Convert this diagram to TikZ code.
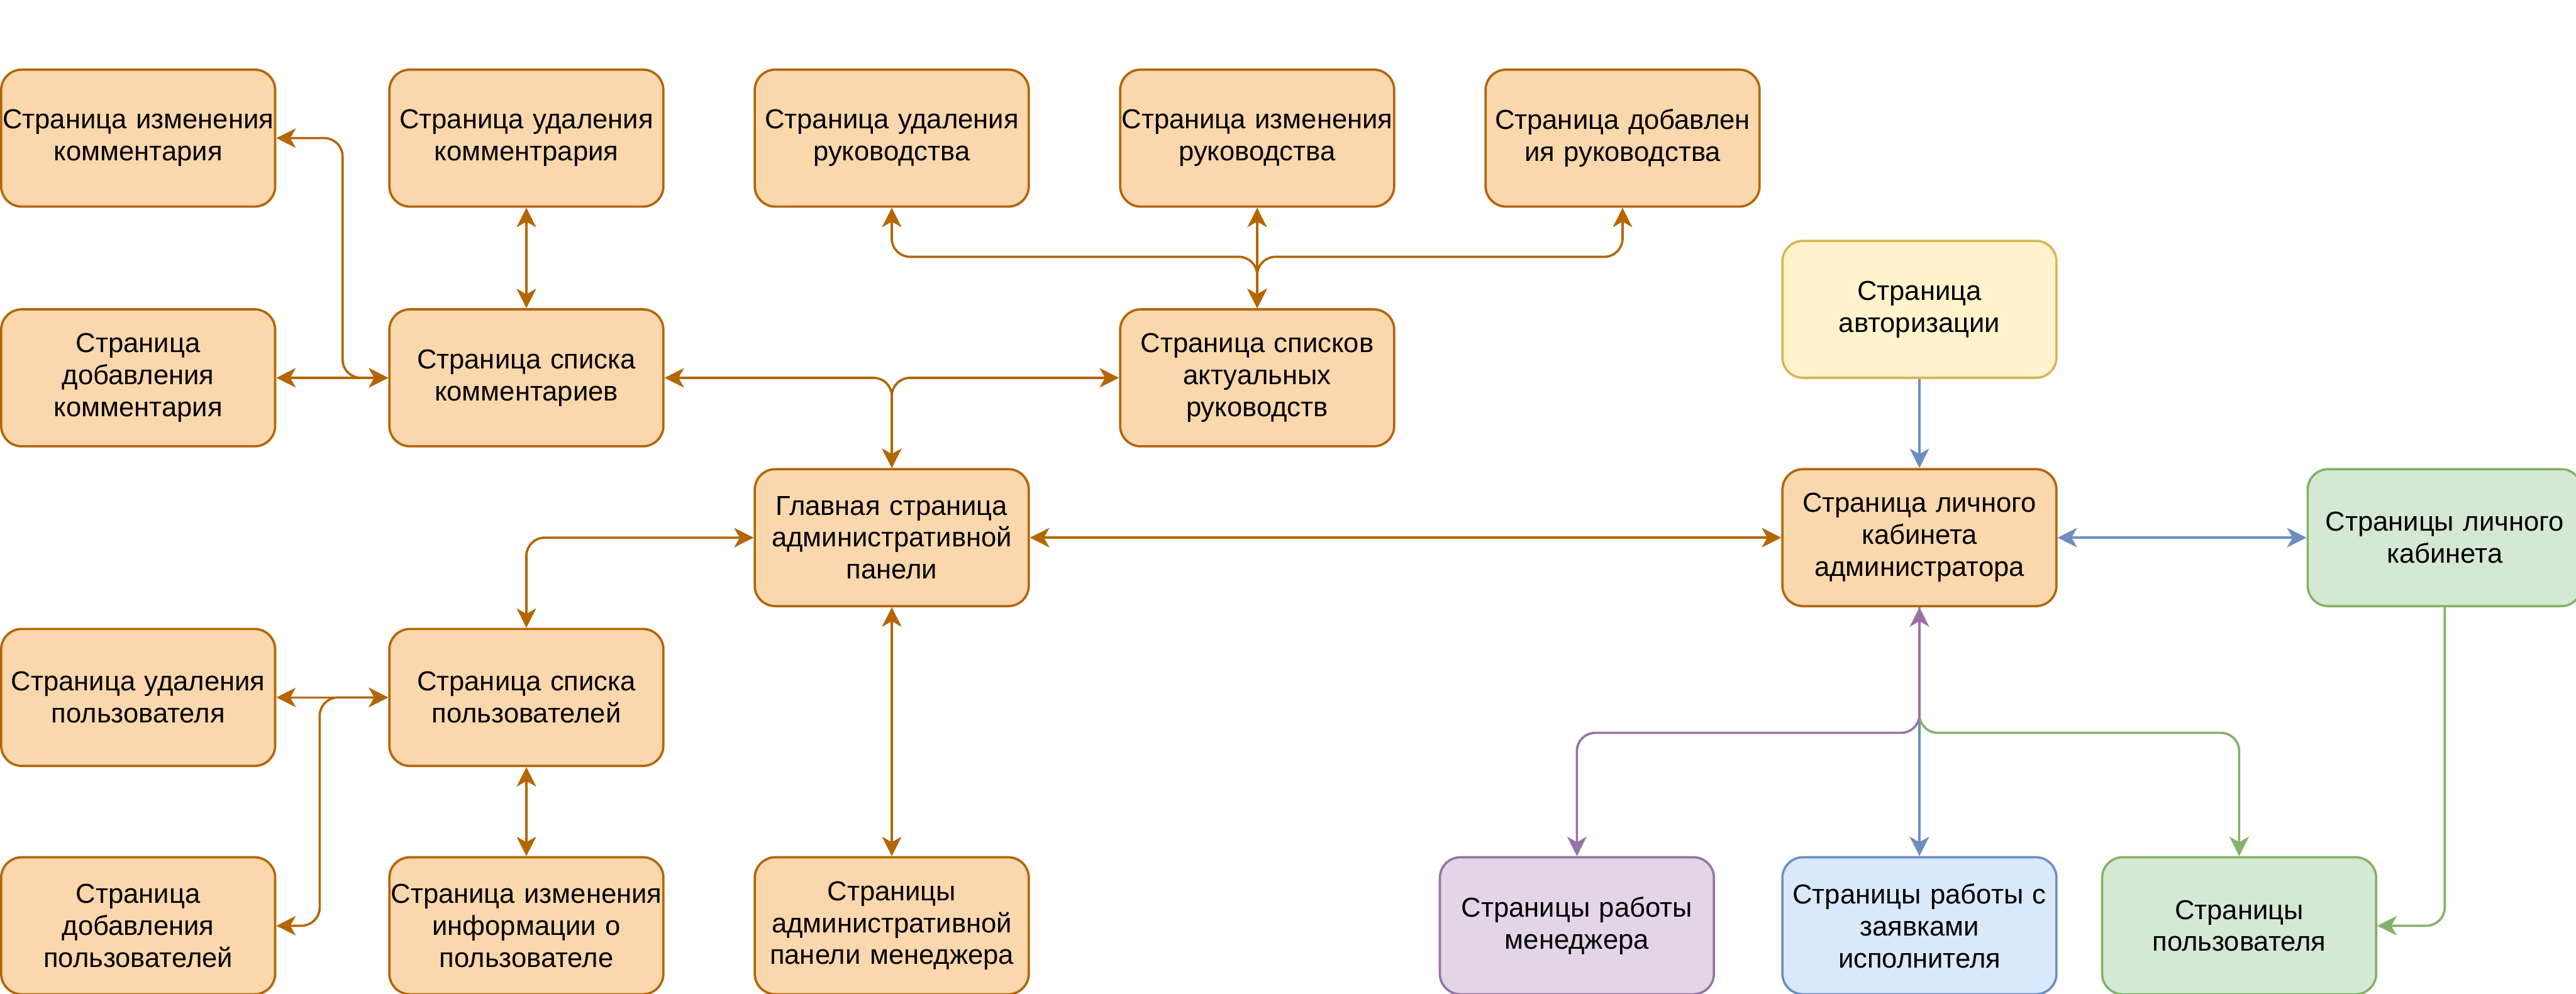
\documentclass[tikz,border=0pt]{standalone}
\usepackage{xcolor}
\usepackage{tikz}
\usepackage{fontspec}
\setmainfont{Liberation Sans}
\usetikzlibrary{arrows.meta, positioning, calc}
\definecolor{orangeline}{HTML}{B46504}
\definecolor{orangefill}{HTML}{FAD7AC}
\definecolor{yellowline}{HTML}{D6B656}
\definecolor{yellowfill}{HTML}{FFF2CC}
\definecolor{greenline}{HTML}{82B366}
\definecolor{greenfill}{HTML}{D5E8D4}
\definecolor{blueline}{HTML}{6C8EBF}
\definecolor{bluefill}{HTML}{DAE8FC}
\definecolor{purpleline}{HTML}{9673A6}
\definecolor{purplefill}{HTML}{E1D5E7}
\tikzstyle{arrow} = [line width=1pt, rounded corners=8pt, -{Stealth[length=8.5pt, width=8.5pt, inset=2.4pt]}]
\tikzstyle{biarrow} = [line width=1pt, rounded corners=8pt, {Stealth[length=8.5pt, width=8.5pt, inset=2.4pt]}-{Stealth[length=8.5pt, width=8.5pt, inset=2.4pt]}]

\begin{document}
\begin{tikzpicture}[
    x=1pt, y=-1pt,
    page/.style={rounded corners=9pt, line width=1pt, minimum width=120pt, minimum height=60pt,
        text width=120pt, inner sep=0pt, align=center, font=\fontsize{12}{14}\selectfont},
    orangepage/.style={page, draw=orangeline, fill=orangefill},
    yellowpage/.style={page, draw=yellowline, fill=yellowfill},
    greenpage/.style={page, draw=greenline, fill=greenfill},
    bluepage/.style={page, draw=blueline, fill=bluefill},
    purplepage/.style={page, draw=purpleline, fill=purplefill}
]
    \useasboundingbox (-0.5,-0.5) rectangle (1127.5,434.75);

    % Comments and guides
    \node[orangepage] (a1) at (60,60) {Страница изменения\\комментария};
    \node[orangepage] (a2) at (230,60) {Страница удаления\\комментрария};
    \node[orangepage] (a3) at (390,60) {Страница удаления\\руководства};
    \node[orangepage] (a4) at (550,60) {Страница изменения\\руководства};
    \node[orangepage] (a5) at (710,60) {Страница добавлен\\ия руководства};

    \node[orangepage] (b1) at (60,165) {Страница\\добавления\\комментария};
    \node[orangepage] (b2) at (230,165) {Страница списка\\комментариев};
    \node[orangepage] (b4) at (550,165) {Страница списков\\актуальных\\руководств};

    % Admin panel
    \node[orangepage] (main) at (390,235) {Главная страница\\административной\\панели};
    \node[yellowpage] (auth) at (840,135) {Страница\\авторизации};
    \node[orangepage] (admin) at (840,235) {Страница личного\\кабинета\\администратора};
    \node[greenpage] (cab) at (1070,235) {Страницы личного\\кабинета};

    % Users
    \node[orangepage] (c1) at (60,305) {Страница удаления\\пользователя};
    \node[orangepage] (c2) at (230,305) {Страница списка\\пользователей};

    \node[orangepage] (d1) at (60,405) {Страница\\добавления\\пользователей};
    \node[orangepage] (d2) at (230,405) {Страница изменения\\информации о\\пользователе};
    \node[orangepage] (d3) at (390,405) {Страницы\\административной\\панели менеджера};
    \node[purplepage] (mgr) at (690,405) {Страницы работы\\менеджера};
    \node[bluepage] (exec) at (840,405) {Страницы работы с\\заявками\\исполнителя};
    \node[greenpage] (user) at (980,405) {Страницы\\пользователя};

    % Orange links
    \draw[biarrow, orangeline] (b2.west) -- ++(-20,0) |- (a1.east);
    \draw[biarrow, orangeline] (b1) -- (b2);
    \draw[biarrow, orangeline] (a2) -- (b2);
    \draw[biarrow, orangeline] (main.north) |- (b2.east);
    \draw[biarrow, orangeline] (main.north) |- (b4.west);
    \draw[biarrow, orangeline] (b4.north) -- ++(0,-22.5) -| (a3.south);
    \draw[biarrow, orangeline] (b4.north) -- ++(0,-22.5) -| (a5.south);
    \draw[biarrow, orangeline] (b4) -- (a4);
    \draw[biarrow, orangeline] (main.west) -| (c2.north);
    \draw[biarrow, orangeline] (c1) -- (c2);
    \draw[biarrow, orangeline] (c2.west) -- ++(-30,0) |- (d1.east);
    \draw[biarrow, orangeline] (c2) -- (d2);
    \draw[biarrow, orangeline] (main) -- (d3);
    \draw[biarrow, orangeline] (main) -- (admin);

    % Cabinet links
    \draw[arrow, blueline] (auth) -- (admin);
    \draw[biarrow, blueline] (admin) -- (cab);
    \draw[arrow, greenline] (cab.south) |- (user.east);
    \draw[arrow, blueline] (admin) -- (exec);
    \draw[arrow, greenline] (admin.south) -- ++(0,55) -| (user.north);
    \draw[biarrow, purpleline] (admin.south) -- ++(0,55) -| (mgr.north);
\end{tikzpicture}
\end{document}
